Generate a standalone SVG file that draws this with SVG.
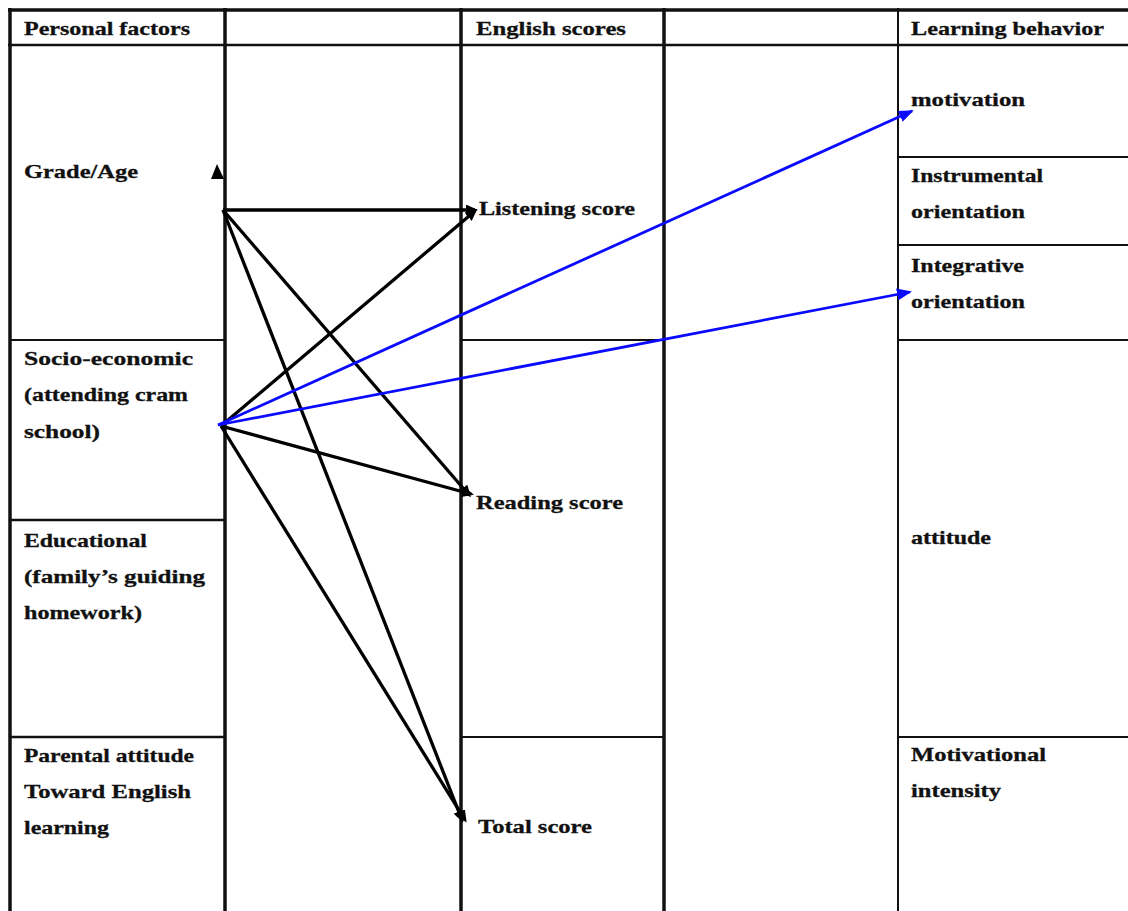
<svg xmlns="http://www.w3.org/2000/svg" width="1128" height="911" viewBox="0 0 1128 911">
<style>
.t{font-family:"Liberation Serif","Times New Roman",serif;font-weight:bold;font-size:19px;fill:#111;stroke:#111;stroke-width:0.3}
.grid{stroke:#111;fill:none}
.thick{stroke-width:3.5}
.mid{stroke-width:2.5}
.thin{stroke-width:2}
.c{stroke:#000;stroke-width:3.3;fill:none}
.b{stroke:#0a0aff;stroke-width:2.8;fill:none}
</style>
<defs>
<marker id="ak" markerWidth="12" markerHeight="11" refX="9" refY="5.5" orient="auto" markerUnits="userSpaceOnUse" viewBox="0 0 12 11">
<path d="M0,0 L12,5.5 L0,11 z" fill="#000"/>
</marker>
<marker id="ab" markerWidth="15" markerHeight="12" refX="13" refY="6" orient="auto" markerUnits="userSpaceOnUse" viewBox="0 0 15 12">
<path d="M0,0 L15,6 L0,12 z" fill="#0a0aff"/>
</marker>
</defs>
<rect width="1128" height="911" fill="#fff"/>
<g id="table">
<line class="grid thick" x1="8" y1="10" x2="1128" y2="10"/>
<line class="grid mid" x1="8" y1="45" x2="1128" y2="45"/>
<line class="grid thick" x1="10" y1="8" x2="10" y2="911"/>
<line class="grid thick" x1="225" y1="8" x2="225" y2="911"/>
<line class="grid thick" x1="461" y1="8" x2="461" y2="911"/>
<line class="grid thick" x1="664" y1="8" x2="664" y2="911"/>
<line class="grid thin" x1="898" y1="8" x2="898" y2="911" stroke="#333"/>
<line class="grid thin" x1="10" y1="340" x2="225" y2="340"/>
<line class="grid mid" x1="10" y1="520" x2="225" y2="520"/>
<line class="grid mid" x1="10" y1="737" x2="225" y2="737"/>
<line class="grid thin" x1="461" y1="340" x2="664" y2="340"/>
<line class="grid thin" x1="461" y1="737" x2="664" y2="737"/>
<line class="grid thin" x1="898" y1="157" x2="1128" y2="157" stroke="#333"/>
<line class="grid thin" x1="898" y1="245" x2="1128" y2="245"/>
<line class="grid thin" x1="898" y1="340" x2="1128" y2="340"/>
<line class="grid thin" x1="898" y1="737" x2="1128" y2="737" stroke="#333"/>
</g>
<g id="headers">
<text class="t" x="24" y="35" textLength="166" lengthAdjust="spacingAndGlyphs">Personal factors</text>
<text class="t" x="476" y="35" textLength="150" lengthAdjust="spacingAndGlyphs">English scores</text>
<text class="t" x="911" y="35" textLength="193" lengthAdjust="spacingAndGlyphs">Learning behavior</text>
</g>
<g id="grade-age"><text class="t" x="24" y="178" textLength="114" lengthAdjust="spacingAndGlyphs">Grade/Age</text></g>
<g id="socio-economic">
<text class="t" x="24" y="365" textLength="169" lengthAdjust="spacingAndGlyphs">Socio-economic</text>
<text class="t" x="24" y="401" textLength="164" lengthAdjust="spacingAndGlyphs">(attending cram</text>
<text class="t" x="24" y="438" textLength="76" lengthAdjust="spacingAndGlyphs">school)</text>
</g>
<g id="educational">
<text class="t" x="24" y="547" textLength="123" lengthAdjust="spacingAndGlyphs">Educational</text>
<text class="t" x="24" y="583" textLength="181" lengthAdjust="spacingAndGlyphs">(family’s guiding</text>
<text class="t" x="24" y="619" textLength="118" lengthAdjust="spacingAndGlyphs">homework)</text>
</g>
<g id="parental">
<text class="t" x="24" y="762" textLength="170" lengthAdjust="spacingAndGlyphs">Parental attitude</text>
<text class="t" x="24" y="798" textLength="167" lengthAdjust="spacingAndGlyphs">Toward English</text>
<text class="t" x="24" y="834" textLength="85" lengthAdjust="spacingAndGlyphs">learning</text>
</g>
<g id="listening"><text class="t" x="479" y="215" textLength="156" lengthAdjust="spacingAndGlyphs">Listening score</text></g>
<g id="reading"><text class="t" x="476" y="509" textLength="147" lengthAdjust="spacingAndGlyphs">Reading score</text></g>
<g id="total"><text class="t" x="478" y="833" textLength="114" lengthAdjust="spacingAndGlyphs">Total score</text></g>
<g id="motivation"><text class="t" x="911" y="106" textLength="114" lengthAdjust="spacingAndGlyphs">motivation</text></g>
<g id="instrumental">
<text class="t" x="911" y="182" textLength="132" lengthAdjust="spacingAndGlyphs">Instrumental</text>
<text class="t" x="911" y="218" textLength="114" lengthAdjust="spacingAndGlyphs">orientation</text>
</g>
<g id="integrative">
<text class="t" x="911" y="272" textLength="113" lengthAdjust="spacingAndGlyphs">Integrative</text>
<text class="t" x="911" y="308" textLength="114" lengthAdjust="spacingAndGlyphs">orientation</text>
</g>
<g id="attitude"><text class="t" x="911" y="544" textLength="80" lengthAdjust="spacingAndGlyphs">attitude</text></g>
<g id="motivational">
<text class="t" x="911" y="761" textLength="135" lengthAdjust="spacingAndGlyphs">Motivational</text>
<text class="t" x="911" y="797" textLength="90" lengthAdjust="spacingAndGlyphs">intensity</text>
</g>
<g id="connectors">
<path d="M211,179 L217,164 L224,179 z" fill="#000"/>
<line class="c" x1="223" y1="210" x2="475" y2="210" marker-end="url(#ak)"/>
<line class="c" x1="223" y1="210" x2="469" y2="495" marker-end="url(#ak)"/>
<line class="c" x1="223" y1="210" x2="462" y2="820" marker-end="url(#ak)"/>
<line class="c" x1="221" y1="426" x2="475" y2="211" marker-end="url(#ak)"/>
<line class="c" x1="221" y1="426" x2="471" y2="494" marker-end="url(#ak)"/>
<line class="c" x1="221" y1="426" x2="465" y2="820" marker-end="url(#ak)"/>
<line class="b" x1="218" y1="425" x2="912" y2="111" marker-end="url(#ab)"/>
<line class="b" x1="218" y1="425" x2="910" y2="292" marker-end="url(#ab)"/>
</g>
</svg>
